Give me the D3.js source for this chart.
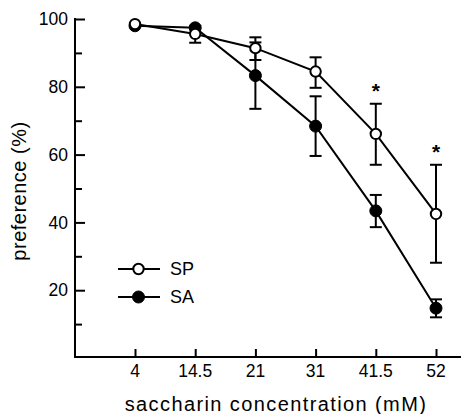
<!DOCTYPE html>
<html><head><meta charset="utf-8">
<script src="https://cdn.jsdelivr.net/npm/d3@7"></script>
<style>body{margin:0;background:#fff}svg{display:block}text{font-family:"Liberation Sans",Arial,sans-serif;fill:#000}</style>
</head><body><svg id="c" width="462" height="414"></svg>
<script>
const categories = ["4","14.5","21","31","41.5","52"];
const spValues = [98.5, 95.6, 91.4, 84.5, 66.1, 42.5];
const spUpper  = [98.5, 98.0, 94.6, 88.7, 75.0, 57.0];
const spLower  = [98.5, 93.0, 87.9, 79.7, 57.0, 28.1];
const saValues = [98.0, 97.4, 83.3, 68.4, 43.4, 14.7];
const saUpper  = [98.0, 97.4, 93.1, 77.2, 48.1, 17.3];
const saLower  = [98.0, 97.4, 73.5, 59.6, 38.6, 12.0];
const significant = ["41.5","52"];
const yTicks = [20,40,60,80,100];
const yMinorTicks = [10,30,50,70,90];
const seriesNames = ["SP","SA"];

const svg = d3.select("#c");
const x = d3.scalePoint().domain(categories).range([135,436]);
const y = d3.scaleLinear().domain([0,100]).range([358,19]);
const axisX0 = 75, axisY0 = 357;

// axes
const gy = svg.append("g").attr("transform",`translate(${axisX0},0)`);
gy.call(d3.axisRight(y).tickValues(yTicks).tickSize(10).tickFormat(""));
gy.append("g").call(d3.axisRight(y).tickValues(yMinorTicks).tickSize(7).tickFormat(""));
gy.selectAll(".domain").remove();
gy.selectAll("line").attr("stroke","#000").attr("stroke-width",2);
gy.append("line").attr("x1",0).attr("x2",0).attr("y1",y(100)-1).attr("y2",axisY0+1).attr("stroke","#000").attr("stroke-width",2);
svg.append("g").selectAll("text").data(yTicks).join("text")
  .attr("x",68).attr("y",d=>y(d)).attr("dy","0.35em").attr("text-anchor","end")
  .attr("font-size",17.5).text(d=>d);

const gx = svg.append("g").attr("transform",`translate(0,${axisY0})`);
gx.call(d3.axisTop(x).tickSize(8).tickFormat(""));
gx.selectAll(".domain").remove();
gx.selectAll("line").attr("stroke","#000").attr("stroke-width",2);
gx.append("line").attr("x1",axisX0-1).attr("x2",461).attr("y1",0).attr("y2",0).attr("stroke","#000").attr("stroke-width",2);
svg.append("g").selectAll("text").data(categories).join("text")
  .attr("x",d=>x(d)).attr("y",377).attr("text-anchor","middle")
  .attr("font-size",17.5).text(d=>d);

svg.append("text").attr("x",276).attr("y",411).attr("text-anchor","middle").attr("font-size",20).attr("letter-spacing",1.4).text("saccharin concentration (mM)");
svg.append("text").attr("transform","translate(26,191) rotate(-90)").attr("text-anchor","middle").attr("font-size",20).attr("letter-spacing",0.5).text("preference (%)");

function drawSeries(vals, up, lo, filled){
  const g = svg.append("g");
  g.append("path").datum(vals).attr("fill","none").attr("stroke","#000").attr("stroke-width",2)
    .attr("d", d3.line().x((d,i)=>x(categories[i])).y(d=>y(d)));
  categories.forEach((c,i)=>{
    if (up[i]-lo[i] < 0.5) return;
    const cx = x(c);
    g.append("line").attr("x1",cx).attr("x2",cx).attr("y1",y(up[i])).attr("y2",y(lo[i])).attr("stroke","#000").attr("stroke-width",2);
    [up[i],lo[i]].forEach(v=>g.append("line").attr("x1",cx-6).attr("x2",cx+6).attr("y1",y(v)).attr("y2",y(v)).attr("stroke","#000").attr("stroke-width",2));
  });
  g.selectAll("circle").data(vals).join("circle")
    .attr("cx",(d,i)=>x(categories[i])).attr("cy",d=>y(d)).attr("r",filled?6:5.2)
    .attr("fill",filled?"#000":"#fff").attr("stroke","#000").attr("stroke-width",filled?1:2);
}
drawSeries(saValues, saUpper, saLower, true);
drawSeries(spValues, spUpper, spLower, false);

// asterisks
svg.append("g").selectAll("text").data(significant).join("text")
  .attr("x",d=>x(d)).attr("y",d=>y(spUpper[categories.indexOf(d)])-6).attr("text-anchor","middle")
  .attr("font-size",21).attr("font-weight","bold").text("*");

// legend
const leg = svg.append("g");
seriesNames.forEach((n,i)=>{
  const ly = 269 + i*28;
  leg.append("line").attr("x1",118).attr("x2",160).attr("y1",ly).attr("y2",ly).attr("stroke","#000").attr("stroke-width",2);
  leg.append("circle").attr("cx",138.5).attr("cy",ly).attr("r",i===0?5.2:6)
    .attr("fill",i===0?"#fff":"#000").attr("stroke","#000").attr("stroke-width",i===0?2:1);
  leg.append("text").attr("x",170).attr("y",ly).attr("dy","0.35em").attr("font-size",18).text(n);
});
</script></body></html>
